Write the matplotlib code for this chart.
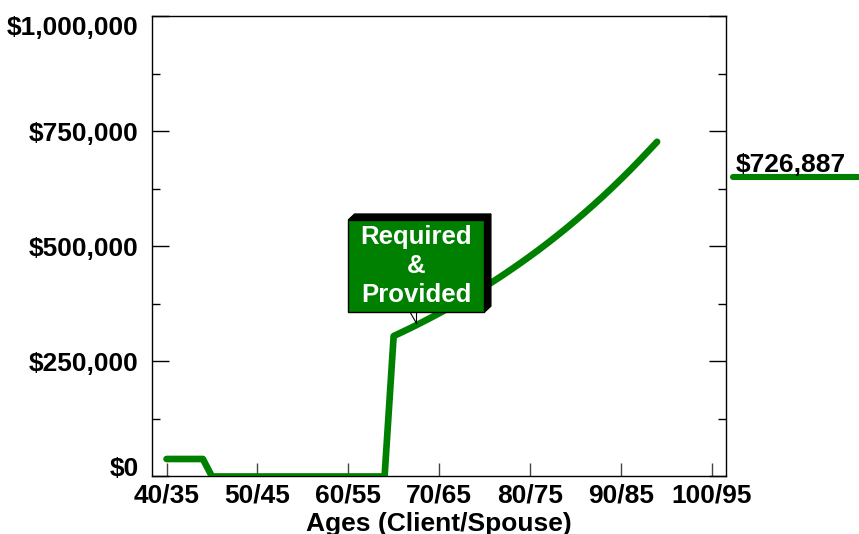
import matplotlib
matplotlib.use("Agg")
import matplotlib.pyplot as plt
import matplotlib.transforms as mtransforms
from matplotlib.patches import Polygon, Rectangle
from matplotlib.ticker import FuncFormatter, MultipleLocator

plt.rcParams['font.family'] = ['Liberation Sans', 'DejaVu Sans']
plt.rcParams['font.weight'] = 'bold'

# client age, one point per year
ages = list(range(40, 95))
# balance: small amount early on, nothing through 64, then funded from 65
balance = ([38000] * 5 + [0] * 20 +
           [305000, 314300, 323800, 333700, 343900, 354300, 365100, 376200,
            387700, 399500, 411600, 424100, 437000, 450400, 464100, 478200,
            492700, 507700, 523200, 539100, 555500, 572400, 589800, 607700,
            626200, 645300, 664900, 685100, 705900, 726887])
x_ticks = [40, 50, 60, 70, 80, 90, 100]
x_tick_labels = ['40/35', '50/45', '60/55', '70/65', '80/75', '90/85', '100/95']
y_ticks = [0, 250000, 500000, 750000, 1000000]
box_lines = ['Required', '&', 'Provided']

green = '#008000'
fs = 19

fig = plt.figure(figsize=(8.59, 5.34), dpi=100)
ax = fig.add_axes([0.1775, 0.1077, 0.6673, 0.8623])

ax.plot(ages, balance, color=green, lw=4.8, solid_capstyle='round',
        solid_joinstyle='round', zorder=3)

ax.set_xlim(38.45, 101.55)
ax.set_ylim(0, 1000000)

ax.set_xticks(x_ticks)
ax.set_xticklabels(x_tick_labels)
ax.set_yticks(y_ticks)
ax.yaxis.set_minor_locator(MultipleLocator(125000))
ax.yaxis.set_major_formatter(FuncFormatter(lambda v, p: '${:,.0f}'.format(v)))

ax.tick_params(axis='x', which='major', direction='in', length=9.5, width=1,
               color='#444444', labelsize=fs, pad=5, top=False)
ax.tick_params(axis='y', which='major', direction='in', length=12.5, width=1,
               labelsize=fs, pad=10, right=True)
ax.tick_params(axis='y', which='minor', direction='in', length=6, width=1,
               right=True)
for lab in ax.get_xticklabels() + ax.get_yticklabels():
    lab.set_fontweight('bold')

# keep the end labels inside the frame
yt = ax.yaxis.get_major_ticks()
yt[0].label1.set_va('baseline')
yt[-1].label1.set_va('top')

for s in ax.spines.values():
    s.set_linewidth(1)
    s.set_color('black')

ax.set_xlabel('Ages (Client/Spouse)', fontsize=fs, fontweight='bold',
              labelpad=3)

# callout box with a shaded 3D edge
bx0, bx1 = 60.0, 75.0
by0, by1 = 357000, 557000
dx, dy = 0.7, 13000
top_face = Polygon([(bx0, by1), (bx1, by1), (bx1 + dx, by1 + dy),
                    (bx0 + dx, by1 + dy)], closed=True, fc='black', ec='black',
                   lw=1, zorder=4)
side_face = Polygon([(bx1, by0), (bx1 + dx, by0 + dy), (bx1 + dx, by1 + dy),
                     (bx1, by1)], closed=True, fc='black', ec='black', lw=1,
                    zorder=4)
front = Rectangle((bx0, by0), bx1 - bx0, by1 - by0, fc=green, ec='black',
                  lw=1, zorder=5)
for p in (top_face, side_face, front):
    ax.add_patch(p)
ax.text((bx0 + bx1) / 2, (by0 + by1) / 2, '\n'.join(box_lines), color='white',
        fontsize=18.5, fontweight='bold', ha='center', va='center',
        linespacing=1.24, zorder=6)
# little pointer from the box down to the line
tip_age = 67.5
tip_val = 333000
ax.plot([66.8, tip_age], [by0, tip_val], color='black', lw=0.8, zorder=4)
ax.plot([tip_age, tip_age], [by0, tip_val], color='black', lw=0.8, zorder=4)

# ending value label to the right of the frame
end_value = balance[-1]
ax.annotate('${:,.0f}'.format(end_value), xy=(1, end_value),
            xycoords=('axes fraction', 'data'), xytext=(7, -22),
            textcoords='offset points', fontsize=fs, fontweight='bold',
            ha='left', va='baseline', annotation_clip=False)
under = mtransforms.offset_copy(
    mtransforms.blended_transform_factory(fig.transFigure, ax.transData),
    fig=fig, y=-25.5, units='points')
ax.plot([733 / 859, 1.02], [end_value, end_value], transform=under,
        color=green, lw=4.4, solid_capstyle='round', clip_on=False)

fig.savefig('out.png', dpi=100)
